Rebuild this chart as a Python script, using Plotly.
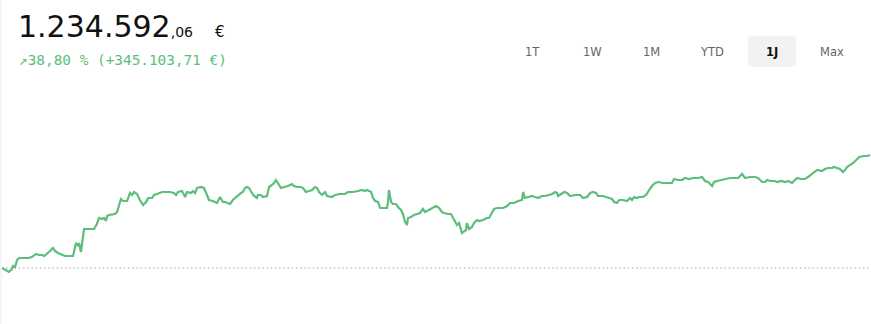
import pandas as pd
import plotly.graph_objects as go

# ---------------- data ----------------
start_date = "2023-06-24"
days = [0, 1.3, 2.9, 4.2, 4.6, 5.5, 6.3, 7.2, 9.7, 10.9, 12.6, 14.3, 15.6, 16.8, 17.7, 18.9, 20.2, 21.4, 22.3, 23.5,
        26.5, 29.9, 30.7, 31.1, 32.0, 32.4, 33.2, 34.1, 34.5, 37.0, 38.7, 39.9, 40.8, 42.1, 42.9, 43.7, 44.2, 45.0,
        47.5, 48.4, 49.2, 50.0, 50.9, 52.6, 53.8, 54.7, 55.5, 56.8, 58.0, 59.3, 60.6, 61.4, 63.1, 63.9, 65.2, 67.3,
        69.4, 70.6, 72.3, 73.2, 74.0, 75.7, 77.0, 77.8, 79.5, 80.3, 81.2, 82.0, 83.7, 84.9, 86.2, 87.0, 88.7, 90.4,
        91.7, 92.9, 93.8, 94.6, 95.9, 97.1, 98.4, 99.2, 100.5, 101.3, 102.2, 103.0, 103.9, 105.1, 106.0, 107.2,
        107.6, 108.9, 109.7, 111.4, 112.3, 113.5, 114.4, 115.2, 116.1, 117.3, 118.6, 120.3, 121.9, 122.8, 124.0,
        125.7, 126.6, 127.8, 129.1, 130.4, 131.6, 132.5, 133.3, 134.6, 135.8, 136.7, 138.8, 140.0, 142.1, 144.2,
        145.5, 147.6, 149.7, 151.4, 152.6, 153.5, 155.2, 156.0, 156.9, 158.1, 159.0, 160.6, 161.9, 162.3, 162.7,
        163.6, 164.4, 165.7, 166.5, 167.8, 168.6, 169.5, 170.3, 170.7, 172.0, 173.2, 174.5, 175.8, 177.0, 177.9,
        178.7, 180.8, 182.5, 183.8, 185.0, 185.9, 187.5, 188.8, 189.7, 190.5, 191.3, 192.2, 193.4, 193.9, 195.1,
        195.5, 196.4, 197.6, 198.5, 199.7, 200.6, 202.3, 203.9, 204.8, 206.0, 206.9, 208.2, 209.8, 210.7, 212.4,
        213.6, 215.3, 217.0, 218.7, 219.1, 219.9, 221.2, 222.9, 224.1, 225.4, 227.0, 228.3, 230.0, 231.3, 232.6,
        233.4, 233.8, 235.5, 236.4, 237.6, 238.9, 241.0, 243.1, 244.3, 246.0, 247.3, 248.5, 249.8, 250.6, 252.7,
        254.4, 255.2, 256.5, 257.4, 258.6, 259.5, 261.1, 262.8, 264.1, 264.9, 265.8, 267.0, 267.9, 269.5, 270.8,
        271.6, 273.3, 274.6, 275.9, 278.0, 280.1, 281.7, 282.6, 284.3, 285.9, 287.2, 288.9, 290.6, 292.7, 294.4,
        295.6, 296.9, 298.6, 299.4, 300.7, 302.8, 304.4, 306.1, 307.8, 309.5, 311.2, 312.4, 314.5, 316.6, 317.9,
        319.6, 320.8, 321.7, 323.3, 325.0, 325.9, 327.6, 329.3, 330.5, 332.2, 333.0, 334.3, 336.0, 337.6, 338.9,
        341.0, 342.7, 344.8, 346.0, 347.3, 349.0, 349.8, 351.1, 352.3, 353.6, 354.5, 355.3, 356.6, 357.9, 359.2,
        360.5, 362.2, 363.8, 365.0]

# depot value in thousand euro
values_k = [889.48835, 883.4, 877.3, 886.4, 895.6, 892.6, 913.9, 920.0, 920.0, 920.0, 923.1, 932.3, 929.2, 929.2,
            926.1, 932.3, 941.4, 950.6, 941.4, 935.3, 926.1, 926.1, 950.6, 965.8, 956.7, 965.8, 938.4, 1002.5,
            1008.6, 1008.6, 1008.6, 1023.9, 1042.2, 1039.1, 1042.2, 1033.0, 1048.3, 1051.4, 1054.4, 1060.5, 1081.9,
            1100.2, 1094.1, 1094.1, 1118.6, 1112.4, 1121.6, 1115.5, 1097.2, 1081.9, 1091.1, 1103.3, 1103.3, 1112.4,
            1115.5, 1121.6, 1121.6, 1121.6, 1118.6, 1112.4, 1121.6, 1124.7, 1106.3, 1121.6, 1118.6, 1124.7, 1118.6,
            1133.8, 1136.9, 1133.8, 1112.4, 1097.2, 1094.1, 1088.0, 1106.3, 1091.1, 1091.1, 1088.0, 1085.0, 1097.2,
            1106.3, 1112.4, 1118.6, 1121.6, 1133.8, 1136.9, 1133.8, 1118.6, 1109.4, 1103.3, 1112.4, 1112.4, 1106.3,
            1109.4, 1136.9, 1143.0, 1149.1, 1158.3, 1149.1, 1133.8, 1136.9, 1139.9, 1146.0, 1139.9, 1136.9, 1136.9,
            1133.8, 1121.6, 1124.7, 1127.7, 1136.9, 1133.8, 1121.6, 1112.4, 1121.6, 1109.4, 1106.3, 1112.4, 1115.5,
            1115.5, 1121.6, 1121.6, 1124.7, 1127.7, 1124.7, 1127.7, 1121.6, 1103.3, 1094.1, 1091.1, 1072.7, 1072.7,
            1072.7, 1091.1, 1127.7, 1091.1, 1085.0, 1085.0, 1075.8, 1066.6, 1054.4, 1030.0, 1020.8, 1042.2, 1045.3,
            1051.4, 1054.4, 1057.5, 1069.7, 1060.5, 1063.6, 1072.7, 1078.8, 1072.7, 1060.5, 1057.5, 1054.4, 1054.4,
            1042.2, 1026.9, 1020.8, 1026.9, 996.4, 999.4, 1005.5, 1026.9, 1008.6, 1014.7, 1026.9, 1036.1, 1033.0,
            1036.1, 1042.2, 1042.2, 1060.5, 1069.7, 1072.7, 1072.7, 1072.7, 1078.8, 1088.0, 1088.0, 1094.1, 1097.2,
            1121.6, 1103.3, 1106.3, 1109.4, 1106.3, 1103.3, 1109.4, 1109.4, 1112.4, 1115.5, 1121.6, 1118.6, 1109.4,
            1118.6, 1121.6, 1118.6, 1109.4, 1112.4, 1112.4, 1103.3, 1106.3, 1118.6, 1121.6, 1118.6, 1109.4, 1109.4,
            1106.3, 1103.3, 1100.2, 1091.1, 1088.0, 1097.2, 1097.2, 1094.1, 1103.3, 1097.2, 1106.3, 1103.3, 1106.3,
            1106.3, 1112.4, 1121.6, 1139.9, 1149.1, 1152.1, 1149.1, 1149.1, 1149.1, 1161.3, 1158.3, 1158.3, 1164.4,
            1161.3, 1164.4, 1164.4, 1167.4, 1155.2, 1152.1, 1139.9, 1152.1, 1155.2, 1158.3, 1161.3, 1164.4, 1164.4,
            1164.4, 1176.6, 1164.4, 1167.4, 1167.4, 1164.4, 1152.1, 1152.1, 1158.3, 1155.2, 1155.2, 1152.1, 1155.2,
            1152.1, 1155.2, 1149.1, 1155.2, 1164.4, 1161.3, 1161.3, 1167.4, 1179.6, 1188.8, 1185.7, 1191.8, 1194.9,
            1194.9, 1197.9, 1194.9, 1191.8, 1182.7, 1188.8, 1197.9, 1204.1, 1210.2, 1219.3, 1228.5, 1231.5, 1231.5,
            1234.59206]

range_buttons = ["1T", "1W", "1M", "YTD", "1J", "Max"]
selected_button = "1J"

# ---------------- derived ----------------
dates = pd.Timestamp(start_date) + pd.to_timedelta(days, unit="D")
values = [v * 1000 for v in values_k]
start_val, last_val = values[0], values[-1]
diff = last_val - start_val
pct = diff / start_val * 100


def de_num(x, dec=2):
    s = f"{x:,.{dec}f}"
    return s.replace(",", "X").replace(".", ",").replace("X", ".")


main_str = de_num(last_val)
int_part, cents = main_str.split(",")
change_str = f"↗{de_num(pct)} % (+{de_num(diff)} €)"

# ---------------- layout geometry ----------------
W, H = 871, 324
ML, MR, MT, MB = 2, 0, 100, 0
PW, PH = W - ML - MR, H - MT - MB


def px(x):
    return (x - ML) / PW


def py(y):
    return (H - MB - y) / PH


green = "rgb(92,190,122)"
font_main = "DejaVu Sans"

fig = go.Figure()
fig.add_trace(go.Scatter(x=dates, y=values, mode="lines",
                         line=dict(color=green, width=2.2), hoverinfo="skip"))

# scale: ~3054 EUR per pixel, baseline at pixel row 268
eur_per_px = diff / (268 - 155)
ymax = start_val + (268 - MT) * eur_per_px
ymin = start_val - (H - MB - 268) * eur_per_px

x0 = pd.Timestamp(start_date)
x1 = x0 + pd.Timedelta(days=365.4)

fig.update_layout(
    width=W, height=H,
    margin=dict(l=ML, r=MR, t=MT, b=MB),
    paper_bgcolor="white", plot_bgcolor="white",
    showlegend=False,
    xaxis=dict(visible=False, range=[x0, x1], fixedrange=True),
    yaxis=dict(visible=False, range=[ymin, ymax], fixedrange=True),
)

shapes = []
# dotted baseline at start value
shapes.append(dict(type="line", xref="paper", yref="y", x0=0, x1=1, y0=start_val, y1=start_val,
                   line=dict(color="#a8a8a8", width=1, dash="1.5px,2.7px"), layer="below"))
# faint left border
shapes.append(dict(type="line", xref="paper", yref="paper", x0=px(1), x1=px(1), y0=py(H), y1=py(0),
                   line=dict(color="#ebebeb", width=1)))
# selected button background (rounded)
bx0, bx1, by0, by1 = 748, 796, 36, 67
r = 4
X0, X1, Y0, Y1 = px(bx0), px(bx1), py(by1), py(by0)
rx, ry = r / PW, r / PH
path = (f"M {X0+rx},{Y0} L {X1-rx},{Y0} Q {X1},{Y0} {X1},{Y0+ry} L {X1},{Y1-ry} Q {X1},{Y1} {X1-rx},{Y1} "
        f"L {X0+rx},{Y1} Q {X0},{Y1} {X0},{Y1-ry} L {X0},{Y0+ry} Q {X0},{Y0} {X0+rx},{Y0} Z")
shapes.append(dict(type="path", xref="paper", yref="paper", path=path,
                   fillcolor="#f2f2f2", line=dict(width=0), layer="below"))
fig.update_layout(shapes=shapes)

ann = []
ann.append(dict(xref="paper", yref="paper", x=px(16), y=py(26), xanchor="left", yanchor="middle",
                text=f"{int_part}<span style='font-size:14px'>,{cents}</span>", showarrow=False,
                font=dict(family=font_main, size=30, color="#111111")))
ann.append(dict(xref="paper", yref="paper", x=px(220), y=py(31.5), xanchor="center", yanchor="middle",
                text="€", showarrow=False,
                font=dict(family=font_main, size=15, color="#111111")))
ann.append(dict(xref="paper", yref="paper", x=px(17), y=py(60), xanchor="left", yanchor="middle",
                text=change_str, showarrow=False,
                font=dict(family="DejaVu Sans Mono", size=14.4, color=green)))

btn_x = [532, 592, 651, 712, 772, 832]
for lab, bx in zip(range_buttons, btn_x):
    sel = lab == selected_button
    ann.append(dict(xref="paper", yref="paper", x=px(bx), y=py(52), xanchor="center", yanchor="middle",
                    text=f"<b>{lab}</b>" if sel else lab, showarrow=False,
                    font=dict(family=font_main, size=11.5,
                              color="#111111" if sel else "#666666")))
fig.update_layout(annotations=ann)

fig.write_html("out.html")
